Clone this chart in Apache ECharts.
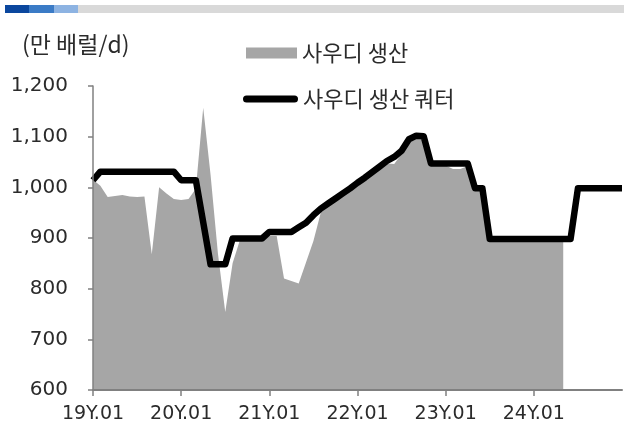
<!DOCTYPE html>
<html>
<head>
<meta charset="utf-8">
<script src="https://cdn.jsdelivr.net/npm/echarts@6/dist/echarts.min.js"></script>
<style>
  html, body { margin: 0; padding: 0; background: #ffffff; }
  #chart { width: 624px; height: 428px; }
</style>
</head>
<body>
<div id="chart"></div>
<script>
// Monthly axis: 19Y.01 … 25Y.01
const years = ['19', '20', '21', '22', '23', '24', '25'];
const monthCodes = ['01', '02', '03', '04', '05', '06', '07', '08', '09', '10', '11', '12'];
const categories = [];
years.forEach((yy, i) => {
  monthCodes.forEach(mm => {
    if (i < years.length - 1 || mm === '01') categories.push(yy + 'Y.' + mm);
  });
});

// Saudi crude production (10k b/d), 2019.01 – 2024.05
const production = [
  1015, 1003, 981, 983, 985, 982, 981, 982, 868, 1000, 988, 977,   // 2019
  975, 977, 997, 1157, 1025, 870, 754, 850, 896, 897, 897, 897,    // 2020
  904, 904, 820, 815, 810, 852, 894, 950, 963, 974, 984, 994,      // 2021
  1005, 1015, 1026, 1037, 1047, 1046, 1066, 1092, 1100, 1098, 1045, 1044, // 2022
  1043, 1036, 1036, 1042, 995, 995, 896, 896, 896, 896, 896, 896,  // 2023
  896, 896, 896, 896, 896, null, null, null, null, null, null, null, // 2024
  null                                                               // 2025.01
];

// Saudi production quota (10k b/d), 2019.01 – 2025.01
const quota = [
  1014, 1031, 1031, 1031, 1031, 1031, 1031, 1031, 1031, 1031, 1031, 1031, // 2019
  1014, 1014, 1014, 931, 848, 848, 848, 899, 899, 899, 899, 899,           // 2020
  912, 912, 912, 912, 921, 930, 945, 958, 968, 978, 988, 998,              // 2021
  1009, 1019, 1030, 1041, 1052, 1060, 1072, 1095, 1102, 1101, 1047, 1047,  // 2022
  1047, 1047, 1047, 1047, 998, 998, 898, 898, 898, 898, 898, 898,          // 2023
  898, 898, 898, 898, 898, 898, 998, 998, 998, 998, 998, 998,              // 2024
  998                                                                      // 2025.01
];

const yMin = 600, yMax = 1200, yStep = 100;
const seriesNames = ['사우디 생산', '사우디 생산 쿼터'];
const unitLabel = '(만 배럴/d)';

const areaColor = '#a6a6a6';
const axisColor = '#808080';
const textColor = '#2b2b2b';
const krFont = '"Noto Sans CJK KR", "Noto Sans", sans-serif';
const numFont = '"DejaVu Sans", sans-serif';

const chart = echarts.init(document.getElementById('chart'), null, { renderer: 'canvas' });

chart.setOption({
  animation: false,
  backgroundColor: '#ffffff',
  grid: { left: 93, right: 2, top: 86, bottom: 38, containLabel: false },
  graphic: [
    // header strip
    { type: 'rect', shape: { x: 5, y: 5, width: 24, height: 8 }, style: { fill: '#0b479e' } },
    { type: 'rect', shape: { x: 29, y: 5, width: 25, height: 8 }, style: { fill: '#3b7bc6' } },
    { type: 'rect', shape: { x: 54, y: 5, width: 24, height: 8 }, style: { fill: '#8db3e2' } },
    { type: 'rect', shape: { x: 78, y: 5, width: 546, height: 8 }, style: { fill: '#d9d9d9' } },
    // unit label
    { type: 'text', left: 22, top: 33, style: { text: unitLabel, fontSize: 23, fill: textColor, fontFamily: krFont } }
  ],
  legend: [
    {
      data: [{ name: seriesNames[0], icon: 'rect' }],
      left: 246, top: 42, padding: 0,
      itemWidth: 51, itemHeight: 11,
      itemStyle: { borderWidth: 0 },
      selectedMode: false,
      textStyle: { fontSize: 22, color: textColor, fontFamily: krFont }
    },
    {
      data: [{ name: seriesNames[1], icon: 'path://M3.5 0H51.5A3.5 3.5 0 0 1 51.5 7H3.5A3.5 3.5 0 0 1 3.5 0Z' }],
      left: 243, top: 88, padding: 0,
      itemWidth: 55, itemHeight: 7,
      itemStyle: { borderWidth: 0 },
      selectedMode: false,
      textStyle: { fontSize: 22, color: textColor, fontFamily: krFont }
    }
  ],
  xAxis: {
    type: 'category',
    data: categories,
    boundaryGap: false,
    z: 5,
    axisLine: { show: true, lineStyle: { color: axisColor, width: 2 } },
    axisTick: { show: true, interval: 11, length: 6, lineStyle: { color: axisColor, width: 1.5 } },
    axisLabel: {
      interval: 11, showMaxLabel: false, margin: 15,
      fontSize: 19, color: textColor, fontFamily: numFont
    },
    splitLine: { show: false }
  },
  yAxis: {
    type: 'value',
    min: yMin, max: yMax, interval: yStep,
    z: 5,
    axisLine: { show: true, lineStyle: { color: axisColor, width: 1.5 } },
    axisTick: { show: true, length: 5, lineStyle: { color: axisColor, width: 1.5 } },
    axisLabel: {
      margin: 25, fontSize: 20, color: textColor, fontFamily: numFont,
      formatter: v => v.toLocaleString('en-US')
    },
    splitLine: { show: false }
  },
  series: [
    {
      name: seriesNames[0],
      type: 'line',
      data: production,
      symbol: 'none',
      showSymbol: false,
      connectNulls: false,
      lineStyle: { width: 0 },
      itemStyle: { color: areaColor },
      areaStyle: { color: areaColor, opacity: 1 },
      z: 2
    },
    {
      name: seriesNames[1],
      type: 'line',
      data: quota,
      symbol: 'none',
      showSymbol: false,
      itemStyle: { color: '#000000' },
      lineStyle: { color: '#000000', width: 6.5, cap: 'butt', join: 'round' },
      z: 3
    }
  ]
});
</script>
</body>
</html>
